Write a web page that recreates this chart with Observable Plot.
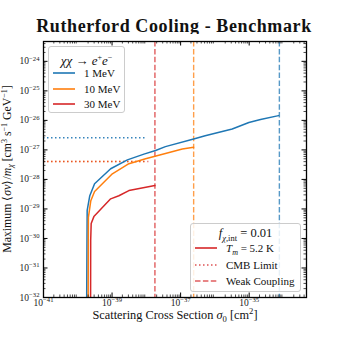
<!DOCTYPE html>
<html><head><meta charset="utf-8">
<script src="https://cdn.jsdelivr.net/npm/d3@7"></script>
<script src="https://cdn.jsdelivr.net/npm/@observablehq/plot@0.6"></script>
<style>
body{margin:0;background:#fff;font-family:"Liberation Serif",serif;color:#111;}
#wrap{position:relative;width:340px;height:340px;overflow:hidden;}
#title{position:absolute;left:0;top:16px;width:348px;text-align:center;font-weight:bold;font-size:18px;line-height:20px;letter-spacing:0.6px;white-space:nowrap;}
#chart{position:absolute;left:0;top:34px;}
#ylab{position:absolute;left:-143px;top:161px;width:300px;height:16px;line-height:16px;text-align:center;font-size:11.8px;white-space:nowrap;transform:rotate(-90deg);}
#ylab sup{font-size:8px;line-height:0;vertical-align:0.45em;}
#ylab sub{font-size:8px;line-height:0;vertical-align:-0.25em;}
.leg{position:absolute;border:1px solid #cccccc;border-radius:3px;background:rgba(255,255,255,0.85);box-sizing:border-box;}
.leg .row{position:absolute;left:0;height:12px;line-height:12px;font-size:11px;white-space:nowrap;}
.leg .row svg{position:absolute;left:3px;top:1px;}
.leg .row span{position:absolute;left:35px;top:0;}
.leg .ttl{position:absolute;left:0;width:100%;text-align:center;height:13px;line-height:13px;white-space:nowrap;}
.leg sup,.leg sub{line-height:0;}
</style></head><body>
<div id="wrap">
<div id="title">Rutherford Cooling - Benchmark</div>
<div id="chart"></div>
<div id="ylab">Maximum ⟨<i>σv</i>⟩/<i>m</i><sub><i>χ</i></sub> [cm<sup>3</sup> s<sup>−1</sup> GeV<sup>−1</sup>]</div>
<div class="leg" id="leg1" style="left:48px;top:46px;width:77px;height:67px;"></div>
<div class="leg" id="leg2" style="left:190px;top:223px;width:111px;height:69px;"></div>
</div>
<script>
// ---------- data ----------
const massLabels = ["1 MeV", "10 MeV", "30 MeV"];
const seriesColors = ["#1f77b4", "#ff7f0e", "#d62728"];

const sigma1MeV = [1.80e-40, 1.85e-40, 1.88e-40, 2.24e-40, 3.09e-40, 9.1e-40, 2.8e-39, 8.5e-39, 1.86e-38, 3.6e-38, 2.4e-37, 5.2e-37, 3.2e-36, 9.8e-36, 2.14e-35, 7.2e-35];
const rate1MeV  = [1e-33, 4e-31, 8.9e-30, 2.8e-29, 7.1e-29, 2.3e-28, 4.6e-28, 7.2e-28, 9.5e-28, 1.29e-27, 2.34e-27, 3.0e-27, 5.1e-27, 8.5e-27, 1.07e-26, 1.45e-26];

const sigma10MeV = [2.0e-40, 2.04e-40, 2.4e-40, 3.09e-40, 1.02e-39, 3.1e-39, 9.5e-39, 3.6e-38, 1.12e-37, 2.4e-37];
const rate10MeV  = [1e-33, 5.2e-30, 1.9e-29, 3.9e-29, 1.55e-28, 3.4e-28, 5.0e-28, 7.6e-28, 1.07e-27, 1.23e-27];

const sigma30MeV = [2.36e-40, 2.38e-40, 2.46e-40, 2.95e-40, 9.1e-40, 1.58e-39, 3.1e-39, 1.78e-38];
const rate30MeV  = [1e-33, 8.5e-31, 3.2e-30, 5.5e-30, 2.2e-29, 2.8e-29, 4.2e-29, 6.2e-29];

const weakCouplingSigma = [7.6e-35, 2.4e-37, 1.78e-38];
const cmbLimitRate = [2.57e-27, 4.07e-28, 4.07e-28];
const cmbLimitSigmaEnd = [1.07e-38, 1.07e-38, 1.32e-38];

const xTicks = [1e-41, 1e-39, 1e-37, 1e-35];
const yTicks = [1e-32, 1e-31, 1e-30, 1e-29, 1e-28, 1e-27, 1e-26, 1e-25, 1e-24];
const xDomain = [1e-41, 4.7e-34];
const yDomain = [1e-32, 4.7e-24];

// ---------- tables ----------
const curveSig = [sigma1MeV, sigma10MeV, sigma30MeV];
const curveRate = [rate1MeV, rate10MeV, rate30MeV];
const curves = [];
massLabels.forEach((m, i) => curveSig[i].forEach((s, j) => curves.push({mass: m, color: seriesColors[i], sigma: s, rate: curveRate[i][j]})));
const weak = massLabels.map((m, i) => ({mass: m, color: seriesColors[i], sigma: weakCouplingSigma[i]}));
const cmb = massLabels.map((m, i) => ({mass: m, color: seriesColors[i], rate: cmbLimitRate[i], start: xDomain[0], end: cmbLimitSigmaEnd[i]}));

function minorTicks(domain) {
  const out = [];
  const lo = Math.floor(Math.log10(domain[0])), hi = Math.ceil(Math.log10(domain[1]));
  for (let e = lo; e <= hi; e++) for (let k = 2; k <= 9; k++) {
    const v = k * Math.pow(10, e);
    if (v > domain[0] && v < domain[1]) out.push(v);
  }
  return out;
}
const exp = v => Math.round(Math.log10(v));
const fmt = v => "10^{\u2212" + Math.abs(exp(v)) + "}";

const W = 340, H = 306, mT = 7, mB = 43, mL = 43, mR = 34;
const iW = W - mL - mR, iH = H - mT - mB;
const tickMajor = 4.5, tickMinor = 2.5;

const chart = Plot.plot({
  width: W, height: H,
  marginTop: mT, marginBottom: mB, marginLeft: mL, marginRight: mR,
  x: {type: "log", domain: xDomain},
  y: {type: "log", domain: yDomain},
  color: {type: "identity"},
  style: {fontFamily: "Liberation Serif, serif", fontSize: "9.5px", color: "#222", background: "white", overflow: "visible"},
  marks: [
    Plot.ruleX(weak, {x: "sigma", stroke: "color", strokeWidth: 1.4, strokeOpacity: 0.75, strokeDasharray: "5.5,2.4"}),
    Plot.ruleY(cmb.slice(0, 2), {y: "rate", x1: "start", x2: "end", stroke: "color", strokeWidth: 1.5, strokeOpacity: 0.9, strokeDasharray: "1.5,2.5"}),
    Plot.ruleY(cmb.slice(2), {y: "rate", x1: "start", x2: "end", stroke: "color", strokeWidth: 1.5, strokeOpacity: 0.55, strokeDasharray: "1.5,2.5"}),
    Plot.line(curves, {x: "sigma", y: "rate", z: "mass", stroke: "color", strokeWidth: 1.5, clip: true}),
    // inward ticks on all four sides
    Plot.tickX(xTicks, {x: d => d, stroke: "black", insetTop: iH - tickMajor}),
    Plot.tickX(xTicks, {x: d => d, stroke: "black", insetBottom: iH - tickMajor}),
    Plot.tickX(minorTicks(xDomain), {x: d => d, stroke: "black", strokeWidth: 0.7, insetTop: iH - tickMinor}),
    Plot.tickX(minorTicks(xDomain), {x: d => d, stroke: "black", strokeWidth: 0.7, insetBottom: iH - tickMinor}),
    Plot.tickY(yTicks, {y: d => d, stroke: "black", insetRight: iW - tickMajor}),
    Plot.tickY(yTicks, {y: d => d, stroke: "black", insetLeft: iW - tickMajor}),
    Plot.tickY(minorTicks(yDomain), {y: d => d, stroke: "black", strokeWidth: 0.7, insetRight: iW - tickMinor}),
    Plot.tickY(minorTicks(yDomain), {y: d => d, stroke: "black", strokeWidth: 0.7, insetLeft: iW - tickMinor}),
    Plot.axisX({ticks: xTicks, tickFormat: fmt, tickSize: 0, tickPadding: 2, label: null}),
    Plot.axisY({ticks: yTicks, tickFormat: fmt, tickSize: 0, tickPadding: 4, label: null}),
    Plot.text(["Scattering Cross Section *{\u03c3}_{0} [cm^{2}]"], {frameAnchor: "bottom", dy: 21, fontSize: 12.3, fill: "#111"}),
    Plot.frame({stroke: "black", strokeWidth: 1.3})
  ]
});
document.getElementById("chart").appendChild(chart);

// rich text: ^{..} superscript, _{..} subscript, *{..} italic
function richText(svg) {
  svg.querySelectorAll("text").forEach(t => {
    const s = t.textContent;
    if (!/[\^_*]\{/.test(s)) return;
    const fs = parseFloat(getComputedStyle(t).fontSize) || 10;
    while (t.firstChild) t.removeChild(t.firstChild);
    const re = /([\^_*])\{([^}]*)\}|([^\^_*]+|[\^_*])/g;
    let m, shift = 0;
    while ((m = re.exec(s))) {
      const ts = document.createElementNS("http://www.w3.org/2000/svg", "tspan");
      let target = 0;
      if (m[1] === "^") { target = -0.4 * fs; ts.setAttribute("font-size", (0.7 * fs) + "px"); ts.textContent = m[2]; }
      else if (m[1] === "_") { target = 0.25 * fs; ts.setAttribute("font-size", (0.7 * fs) + "px"); ts.textContent = m[2]; }
      else if (m[1] === "*") { ts.setAttribute("font-style", "italic"); ts.textContent = m[2]; }
      else ts.textContent = m[3];
      if (target !== shift) { ts.setAttribute("dy", (target - shift) + "px"); shift = target; }
      t.appendChild(ts);
    }
  });
}
richText(chart);

// ---------- legends ----------
function swatch(color, dash, opacity) {
  return `<svg width="24" height="10"><line x1="1" x2="23" y1="5" y2="5" stroke="${color}" stroke-width="1.6" stroke-opacity="${opacity}" ${dash ? `stroke-dasharray="${dash}"` : ""}/></svg>`;
}
const leg1 = document.getElementById("leg1");
leg1.innerHTML = `<div class="ttl" style="top:6.5px;font-size:13px;"><i>\u03c7\u03c7</i> \u2192 <i>e</i><sup style="font-size:8px">+</sup><i>e</i><sup style="font-size:8px">\u2212</sup></div>` +
  massLabels.map((m, i) => `<div class="row" style="top:${20.3 + i * 15.5}px">${swatch(seriesColors[i], null, 1)}<span>${m}</span></div>`).join("");

const leg2Entries = [
  {label: `<i>T<sub style="font-size:8px">m</sub></i> = 5.2 K`, dash: null, op: 1},
  {label: "CMB Limit", dash: "1.5,2.5", op: 0.8},
  {label: "Weak Coupling", dash: "5.5,2.4", op: 0.75}
];
const leg2 = document.getElementById("leg2");
leg2.innerHTML = `<div class="ttl" style="top:2.5px;font-size:12.5px;"><i>f</i><sub style="font-size:8.5px"><i>\u03c7</i>,int</sub> = 0.01</div>` +
  leg2Entries.map((e, i) => `<div class="row" style="top:${18.3 + i * 16.2}px">${swatch("#d62728", e.dash, e.op)}<span>${e.label}</span></div>`).join("");
</script>
</body></html>
